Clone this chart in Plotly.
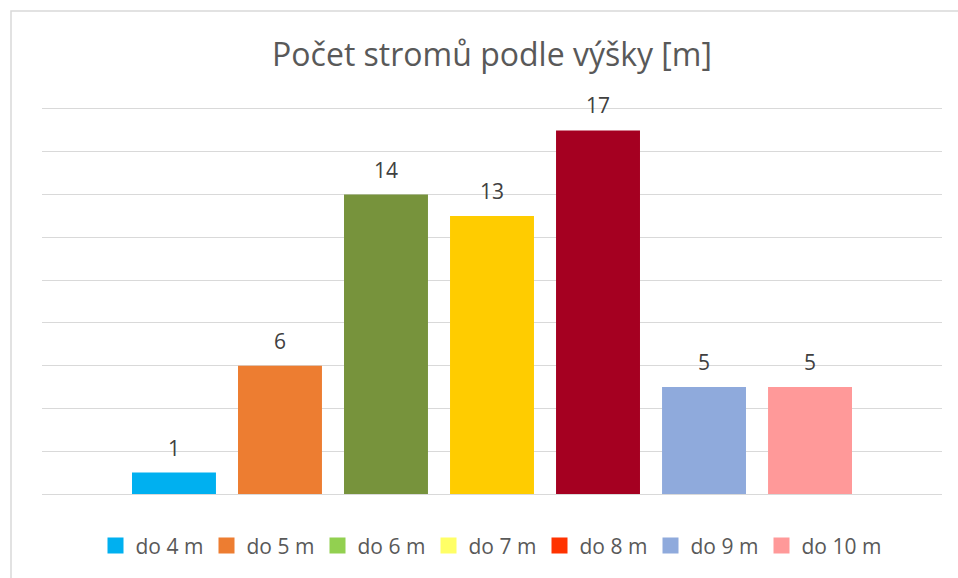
import plotly.graph_objects as go

categories = ["do 4 m", "do 5 m", "do 6 m", "do 7 m", "do 8 m", "do 9 m", "do 10 m"]
counts = [1, 6, 14, 13, 17, 5, 5]
bar_colors = ["#00B0F0", "#ED7D31", "#77933C", "#FFCC00", "#A50021", "#8FAADC", "#FF9999"]
legend_colors = ["#00B0F0", "#ED7D31", "#92D050", "#FFFF66", "#FF3300", "#8FAADC", "#FF9999"]
title_text = "Počet stromů podle výšky [m]"

FONT = "Open Sans"
fig = go.Figure()

for cat, val, col in zip(categories, counts, bar_colors):
    fig.add_trace(go.Bar(
        x=[cat], y=[val], width=0.792, marker=dict(color=col, line=dict(width=0)),
        showlegend=False, hoverinfo="x+y",
    ))

for cat, col in zip(categories, legend_colors):
    fig.add_trace(go.Scatter(
        x=[None], y=[None], mode="markers", name=cat,
        marker=dict(symbol="square", size=16, color=col),
        legendwidth=66 if len(cat) < 7 else 80,
    ))

for cat, val in zip(categories, counts):
    fig.add_annotation(
        x=cat, y=val, text=str(val), showarrow=False, yanchor="middle",
        yshift=25, font=dict(family=FONT, size=21, color="#404040"),
    )

# chart border (top and left edges visible)
fig.add_shape(type="rect", xref="paper", yref="paper",
              x0=(11 - 42) / 900, x1=(975 - 42) / 900,
              y0=(496 - 600) / 387, y1=(496 - 10.5) / 387,
              line=dict(color="#D9D9D9", width=1.5), fillcolor="rgba(0,0,0,0)", layer="below")

fig.update_layout(
    width=958, height=578,
    margin=dict(l=42, r=16, t=109, b=82),
    paper_bgcolor="white", plot_bgcolor="white",
    barmode="overlay",
    title=dict(text=title_text, x=0.5, xref="paper", y=1 - 55 / 578, yref="container",
               xanchor="center", yanchor="middle",
               font=dict(family=FONT, size=32, color="#595959")),
    xaxis=dict(type="category", categoryorder="array", categoryarray=categories,
               range=[-1.245, 7.245], showticklabels=False, showgrid=False,
               zeroline=False, showline=True, mirror=True, linecolor="#D9D9D9",
               linewidth=1, ticks=""),
    yaxis=dict(range=[0, 18], dtick=2, showticklabels=False, showgrid=True,
               gridcolor="#D9D9D9", gridwidth=1, zeroline=True, zerolinecolor="#D9D9D9",
               zerolinewidth=1, showline=False, ticks=""),
    legend=dict(orientation="h", x=0.5 - 1 / 900, xanchor="center", y=(496 - 548) / 387,
                yanchor="middle",
                font=dict(family=FONT, size=21, color="#595959"),
                itemclick=False, itemdoubleclick=False,
                bgcolor="rgba(0,0,0,0)"),
    showlegend=True,
)

fig.write_html("out.html", config={"displayModeBar": False},
               post_script="document.body.style.margin='0';")
